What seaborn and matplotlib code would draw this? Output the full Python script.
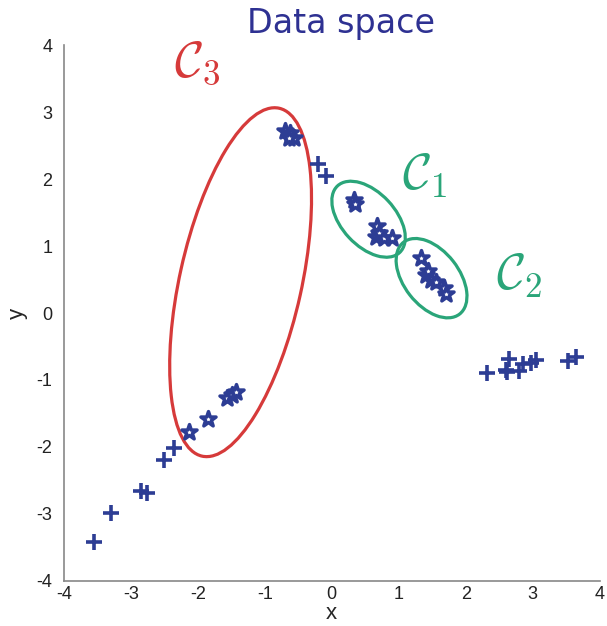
import matplotlib
matplotlib.use("Agg")
import matplotlib.pyplot as plt
from matplotlib.patches import Ellipse
import seaborn as sns
import pandas as pd

# data: plus points (non-cluster) and star points (cluster members)
plus_x = [-3.55, -3.3, -2.85, -2.75, -2.5, -2.35, -0.2, -0.08,
          2.32, 2.6, 2.65, 2.62, 2.8, 2.85, 2.97, 3.05, 3.52, 3.65]
plus_y = [-3.42, -2.98, -2.65, -2.68, -2.2, -2.02, 2.22, 2.04,
          -0.9, -0.85, -0.68, -0.88, -0.86, -0.76, -0.74, -0.7, -0.72, -0.66]
star_x = [-0.7, -0.62, -0.56, -0.64, -2.13, -1.84, -1.57, -1.49, -1.43,
          0.33, 0.35, 0.67, 0.66, 0.7, 0.78, 0.9,
          1.33, 1.4, 1.43, 1.48, 1.55, 1.67, 1.7]
star_y = [2.72, 2.68, 2.62, 2.62, -1.78, -1.58, -1.27, -1.22, -1.18,
          1.68, 1.62, 1.3, 1.14, 1.2, 1.12, 1.12,
          0.82, 0.57, 0.62, 0.5, 0.47, 0.38, 0.28]

# cluster ellipses: center x, center y, major, minor, angle
ell_cx = [-1.36, 0.55, 1.49]
ell_cy = [0.46, 1.40, 0.52]
ell_major = [5.32, 1.36, 1.36]
ell_minor = [1.82, 0.80, 0.82]
ell_angle = [77.5, -47, -52]
ell_color = ["#d63a3a", "#2aa579", "#2aa579"]
labels = [r"$\mathcal{C}_3$", r"$\mathcal{C}_1$", r"$\mathcal{C}_2$"]
label_x = [-2.35, 1.05, 2.45]
label_y = [3.72, 2.05, 0.55]

sns.set_style("white")
plt.rcParams["font.family"] = ["Liberation Sans", "DejaVu Sans"]
plt.rcParams["mathtext.fontset"] = "cm"
plt.rcParams["axes.unicode_minus"] = False

fig = plt.figure(figsize=(6.07, 6.26), dpi=100)
ax = fig.add_axes([0.105, 0.072, 0.883, 0.856])

blue = "#2d3d94"
df_plus = pd.DataFrame({"x": plus_x, "y": plus_y})
df_star = pd.DataFrame({"x": star_x, "y": star_y})
sns.scatterplot(data=df_plus, x="x", y="y", marker="+", s=140, color=blue,
                linewidth=2.6, ax=ax, zorder=3)
sns.scatterplot(data=df_star, x="x", y="y", marker="*", s=130,
                facecolor="white", edgecolor=blue, linewidth=2.5, ax=ax, zorder=4)

for cx, cy, w, h, a, c in zip(ell_cx, ell_cy, ell_major, ell_minor, ell_angle, ell_color):
    ax.add_patch(Ellipse((cx, cy), w, h, angle=a, fill=False, edgecolor=c, linewidth=2.3, zorder=2))

for t, lx, ly, c in zip(labels, label_x, label_y, ell_color):
    ax.text(lx, ly, t, color=c, fontsize=36, ha="left", va="center")

ax.set_xlim(-4, 4)
ax.set_ylim(-4, 4)
ax.set_xticks(range(-4, 5))
ax.set_yticks(range(-4, 5))
ax.set_xlabel("x", fontsize=16, labelpad=0)
ax.set_ylabel("y", fontsize=16, labelpad=6)
ax.tick_params(direction="in", length=4, width=1, colors="#777777", labelsize=13,
               labelcolor="#222222")
ax.tick_params(axis="y", pad=8)
for s in ["top", "right"]:
    ax.spines[s].set_visible(False)
for s in ["left", "bottom"]:
    ax.spines[s].set_color("#888888")
    ax.spines[s].set_linewidth(1.2)

fig.text(0.562, 0.962, "Data space", color="#2e3192", fontsize=24,
         family="DejaVu Sans", ha="center", va="center")

fig.savefig("out.png", dpi=100)
